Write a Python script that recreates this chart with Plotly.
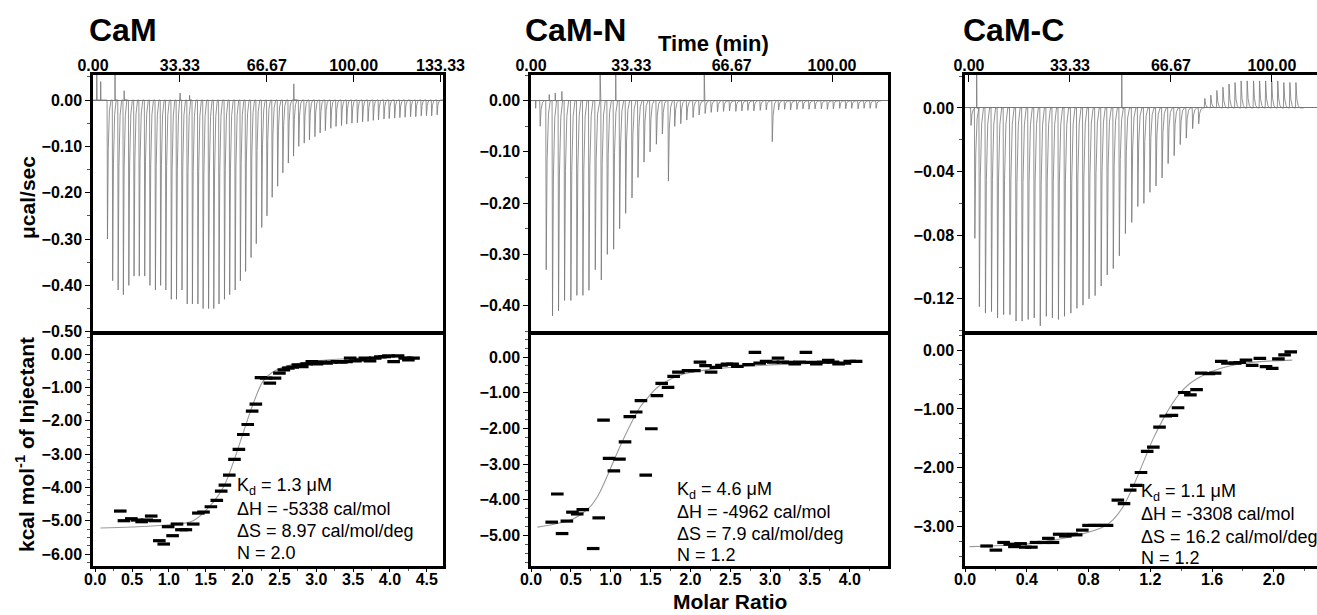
import plotly.graph_objects as go

W, H = 1317, 615

# ---------------- data: raw thermograms (injection times in min, peak heights in ucal/sec)
cam_inj_t = [5.4, 7.4, 9.5, 11.5, 13.6, 15.6, 17.6, 19.7, 21.7, 23.8, 25.8, 27.8, 29.9, 31.9, 34.0, 36.0,
             38.0, 40.1, 42.1, 44.2, 46.2, 48.2, 50.3, 52.3, 54.4, 56.4, 58.4, 60.5, 62.5, 64.6, 66.6, 68.6,
             70.7, 72.7, 74.8, 76.8, 78.8, 80.9, 82.9, 85.0, 87.0, 89.0, 91.1, 93.1, 95.2, 97.2, 99.2, 101.3,
             103.3, 105.4, 107.4, 109.4, 111.5, 113.5, 115.6, 117.6, 119.6, 121.7, 123.7, 125.8, 127.8, 129.8, 131.9]
cam_inj_h = [-0.30, -0.39, -0.41, -0.42, -0.40, -0.38, -0.38, -0.38, -0.40, -0.41, -0.40, -0.41, -0.43, -0.43,
             -0.41, -0.44, -0.44, -0.44, -0.45, -0.45, -0.45, -0.44, -0.43, -0.42, -0.41, -0.39, -0.37, -0.34,
             -0.31, -0.275, -0.25, -0.21, -0.186, -0.157, -0.136, -0.121, -0.10, -0.093, -0.086, -0.079, -0.071,
             -0.066, -0.061, -0.057, -0.055, -0.052, -0.05, -0.049, -0.047, -0.046, -0.044, -0.043, -0.041, -0.04,
             -0.039, -0.038, -0.037, -0.036, -0.036, -0.034, -0.034, -0.034, -0.032]
cam_art_t = [1.4, 2.9, 8.4, 11.9, 33.4, 37.0, 77.0]
cam_art_h = [0.06, 0.04, 0.06, 0.02, 0.015, 0.01, 0.035]

camn_inj_t = [2.9, 4.9, 7.0, 9.0, 11.0, 13.1, 15.1, 17.1, 19.1, 21.2, 23.2, 25.2, 27.3, 29.3, 31.3, 33.4, 35.4,
              37.4, 39.4, 41.5, 43.5, 45.5, 47.6, 49.6, 51.6, 53.7, 55.7, 57.7, 59.7, 61.8, 63.8, 65.8, 67.9, 69.9,
              71.9, 73.9, 76.0, 78.0, 80.0, 82.1, 84.1, 86.1, 88.2, 90.2, 92.2, 94.2, 96.3, 98.3, 100.3, 102.4,
              104.4, 106.4, 108.5, 110.5, 112.5, 114.5]
camn_inj_h = [-0.05, -0.33, -0.42, -0.41, -0.39, -0.39, -0.38, -0.38, -0.37, -0.33, -0.35, -0.30, -0.29, -0.25,
              -0.22, -0.19, -0.15, -0.12, -0.10, -0.085, -0.065, -0.157, -0.05, -0.045, -0.038, -0.033, -0.028,
              -0.025, -0.023, -0.022, -0.021, -0.02, -0.021, -0.02, -0.019, -0.02, -0.019, -0.018, -0.08, -0.018,
              -0.017, -0.018, -0.017, -0.016, -0.017, -0.016, -0.016, -0.017, -0.016, -0.015, -0.016, -0.015,
              -0.016, -0.015, -0.015, -0.015]
camn_art_t = [1.5, 6.0, 8.0, 10.2, 22.9, 28.1, 57.5]
camn_art_h = [-0.015, 0.012, 0.015, 0.018, 0.06, 0.06, 0.06]

camc_inj_t = [0.55, 1.8, 3.3, 5.3, 7.3, 9.3, 11.3, 13.4, 15.4, 17.4, 19.4, 21.4, 23.4, 25.4, 27.4, 29.4, 31.4,
              33.5, 35.5, 37.5, 39.5, 41.5, 43.5, 45.5, 47.5, 49.5, 51.5, 53.6, 55.6, 57.6, 59.6, 61.6, 63.6, 65.6,
              67.6, 69.6, 71.6, 73.7, 75.7, 77.7, 79.7, 81.7, 83.7, 85.7, 87.7, 89.7, 91.7, 93.8, 95.8, 97.8, 99.8,
              101.8, 103.8, 105.8, 107.8]
camc_inj_h = [-0.011, -0.082, -0.125, -0.129, -0.128, -0.132, -0.13, -0.13, -0.134, -0.134, -0.133, -0.132, -0.137,
              -0.131, -0.132, -0.133, -0.131, -0.129, -0.126, -0.124, -0.12, -0.118, -0.112, -0.105, -0.101, -0.093,
              -0.079, -0.072, -0.062, -0.06, -0.053, -0.049, -0.044, -0.035, -0.03, -0.023, -0.019, -0.013, -0.010,
              0.006, 0.008, 0.011, 0.013, 0.015, 0.016, 0.017, 0.017, 0.017, 0.017, 0.017, 0.017, 0.017, 0.016,
              0.016, 0.016]
camc_art_t = [2.5, 50.4]
camc_art_h = [0.03, 0.03]

# ---------------- data: integrated heats (molar ratio, kcal/mol of injectant)
cam_mr = [0.34, 0.39, 0.49, 0.57, 0.63, 0.70, 0.76, 0.81, 0.87, 0.93, 0.99, 1.05, 1.11, 1.17, 1.23, 1.33, 1.40,
          1.47, 1.57, 1.65, 1.71, 1.76, 1.82, 1.89, 1.95, 2.01, 2.07, 2.13, 2.18, 2.25, 2.32, 2.37, 2.44, 2.50,
          2.56, 2.62, 2.68, 2.75, 2.81, 2.87, 2.94, 3.01, 3.06, 3.14, 3.21, 3.28, 3.34, 3.41, 3.46, 3.53, 3.60,
          3.66, 3.73, 3.80, 3.87, 3.93, 3.98, 4.05, 4.11, 4.20, 4.25, 4.32]
cam_q = [-4.71, -5.0, -4.94, -4.98, -5.03, -4.98, -4.86, -5.0, -5.6, -5.70, -5.18, -5.45, -5.10, -5.27, -5.27,
         -5.10, -4.77, -4.74, -4.58, -4.39, -4.11, -3.93, -3.63, -3.16, -2.86, -2.41, -2.11, -1.71, -1.50, -0.70,
         -0.72, -0.87, -0.72, -0.57, -0.47, -0.42, -0.39, -0.32, -0.37, -0.29, -0.22, -0.29, -0.24, -0.27, -0.24,
         -0.22, -0.24, -0.22, -0.12, -0.20, -0.17, -0.12, -0.20, -0.12, -0.08, -0.07, -0.05, -0.22, -0.05, -0.12,
         -0.17, -0.12]
cam_fit_x = [0.07, 0.5, 1.0, 1.33, 1.6, 1.75, 1.88, 2.01, 2.15, 2.28, 2.4, 2.56, 2.8, 3.0, 3.5, 4.0, 4.32]
cam_fit_y = [-5.22, -5.19, -5.12, -5.0, -4.45, -3.95, -3.21, -2.35, -1.45, -0.8, -0.55, -0.38, -0.26, -0.2,
             -0.12, -0.08, -0.07]

camn_mr = [0.26, 0.33, 0.39, 0.45, 0.52, 0.58, 0.65, 0.78, 0.85, 0.91, 0.98, 1.04, 1.11, 1.18, 1.24, 1.32, 1.38,
           1.44, 1.51, 1.58, 1.64, 1.72, 1.79, 1.85, 1.97, 2.05, 2.12, 2.19, 2.26, 2.32, 2.39, 2.46, 2.53, 2.59,
           2.73, 2.81, 2.87, 2.95, 3.04, 3.10, 3.16, 3.23, 3.31, 3.37, 3.45, 3.52, 3.58, 3.67, 3.73, 3.79, 3.86,
           3.94, 4.0, 4.08]
camn_q = [-4.63, -3.84, -4.95, -4.60, -4.35, -4.40, -4.28, -5.37, -4.51, -1.77, -2.84, -3.19, -2.86, -2.38, -1.67,
          -1.54, -1.22, -3.31, -2.01, -1.08, -0.74, -0.85, -0.54, -0.42, -0.38, -0.38, -0.14, -0.24, -0.42, -0.29,
          -0.23, -0.20, -0.20, -0.26, -0.21, 0.13, -0.17, -0.12, -0.14, -0.03, -0.14, -0.15, -0.19, -0.14, 0.13,
          -0.15, -0.19, -0.14, -0.09, -0.14, -0.19, -0.17, -0.12, -0.12]
camn_fit_x = [0.08, 0.3, 0.53, 0.74, 0.85, 0.95, 1.05, 1.16, 1.27, 1.37, 1.48, 1.58, 1.7, 1.85, 2.0, 2.2, 2.6,
              3.0, 3.5, 4.15]
camn_fit_y = [-4.77, -4.68, -4.54, -4.2, -3.85, -3.37, -2.85, -2.3, -1.8, -1.4, -1.1, -0.86, -0.68, -0.52, -0.43,
              -0.36, -0.27, -0.22, -0.18, -0.14]

camc_mr = [0.14, 0.20, 0.25, 0.29, 0.32, 0.36, 0.39, 0.43, 0.46, 0.51, 0.54, 0.57, 0.61, 0.65, 0.69, 0.72, 0.76,
           0.80, 0.84, 0.88, 0.92, 0.99, 1.03, 1.07, 1.11, 1.14, 1.18, 1.22, 1.26, 1.30, 1.34, 1.38, 1.42, 1.46,
           1.50, 1.53, 1.58, 1.62, 1.66, 1.70, 1.75, 1.78, 1.82, 1.86, 1.91, 1.95, 1.99, 2.03, 2.07, 2.11]
camc_q = [-3.33, -3.40, -3.27, -3.30, -3.34, -3.29, -3.35, -3.35, -3.27, -3.27, -3.20, -3.27, -3.13, -3.16, -3.13,
          -3.14, -3.06, -2.98, -2.98, -2.98, -2.98, -2.55, -2.61, -2.38, -2.30, -2.08, -1.72, -1.65, -1.31, -1.12,
          -1.11, -0.98, -0.72, -0.76, -0.67, -0.39, -0.40, -0.39, -0.19, -0.22, -0.22, -0.21, -0.17, -0.26, -0.14,
          -0.28, -0.31, -0.15, -0.08, -0.03]
camc_fit_x = [0.03, 0.42, 0.74, 0.9, 0.96, 1.02, 1.07, 1.12, 1.17, 1.22, 1.28, 1.34, 1.39, 1.45, 1.5, 1.61, 1.82,
              2.12]
camc_fit_y = [-3.34, -3.29, -3.14, -3.0, -2.88, -2.68, -2.43, -2.13, -1.81, -1.5, -1.19, -0.92, -0.74, -0.58,
              -0.49, -0.35, -0.22, -0.17]

panel_titles = ["CaM", "CaM-N", "CaM-C"]
fit_texts = [
    ["K<sub>d</sub> = 1.3 μM", "ΔH = -5338 cal/mol", "ΔS = 8.97 cal/mol/deg", "N = 2.0"],
    ["K<sub>d</sub> = 4.6 μM", "ΔH = -4962 cal/mol", "ΔS = 7.9 cal/mol/deg", "N = 1.2"],
    ["K<sub>d</sub> = 1.1 μM", "ΔH = -3308 cal/mol", "ΔS = 16.2 cal/mol/deg", "N = 1.2"],
]
time_ticks = [0, 33.33, 66.67, 100.0, 133.33]
time_ticktext = ["0.00", "33.33", "66.67", "100.00", "133.33"]


def thermogram(inj_t, inj_h, art_t, art_h, t_end):
    """Build a raw power trace: baseline with a sharp peak for each injection."""
    events = []
    for t, h in zip(inj_t, inj_h):
        events.append((t, [(0.0, 0.0), (0.15, h), (0.45, 0.35 * h), (0.9, 0.08 * h), (1.5, 0.0)]))
    for t, h in zip(art_t, art_h):
        events.append((t, [(0.0, 0.0), (0.05, h), (0.15, 0.0)]))
    events.sort(key=lambda e: e[0])
    xs, ys = [0.0], [0.0]
    for t, shape in events:
        for dt, v in shape:
            xs.append(t + dt)
            ys.append(v)
    xs.append(t_end)
    ys.append(0.0)
    return xs, ys


def px(x):
    return x / W


def py(y):
    return 1 - y / H


fig = go.Figure()

thermos = [
    (cam_inj_t, cam_inj_h, cam_art_t, cam_art_h, 134.3),
    (camn_inj_t, camn_inj_h, camn_art_t, camn_art_h, 116.5),
    (camc_inj_t, camc_inj_h, camc_art_t, camc_art_h, 110.5),
]
isos = [
    (cam_mr, cam_q, cam_fit_x, cam_fit_y),
    (camn_mr, camn_q, camn_fit_x, camn_fit_y),
    (camc_mr, camc_q, camc_fit_x, camc_fit_y),
]

for i in range(3):
    top_ax = 2 * i + 1
    bot_ax = 2 * i + 2
    tx, ty = thermogram(*thermos[i])
    fig.add_trace(go.Scatter(x=tx, y=ty, mode="lines", line=dict(color="#777777", width=0.8),
                             xaxis=f"x{top_ax}", yaxis=f"y{top_ax}", showlegend=False, hoverinfo="skip"))
    mr, q, fx, fy = isos[i]
    fig.add_trace(go.Scatter(x=fx, y=fy, mode="lines", line=dict(color="#9a9a9a", width=1.1, shape="spline"),
                             xaxis=f"x{bot_ax}", yaxis=f"y{bot_ax}", showlegend=False))
    fig.add_trace(go.Scatter(x=mr, y=q, mode="markers",
                             marker=dict(symbol="line-ew", size=9, line=dict(color="black", width=3.2)),
                             xaxis=f"x{bot_ax}", yaxis=f"y{bot_ax}", showlegend=False))

# pixel geometry of panels
LW = 2.5
x_dom = [(93, 443), (531, 888), (965, 1317)]
top_px = (75, 333 - LW / 2)
bot_px = (333 + LW / 2, 566)

top_x_ranges = [[0, 134.3], [0, 118.6], [-1.3, 114.9]]
top_y_ranges = [[-0.50, 0.054], [-0.451, 0.05], [-0.1407, 0.0207]]
top_y_ticks = [[0, -0.1, -0.2, -0.3, -0.4, -0.5], [0, -0.1, -0.2, -0.3, -0.4], [0, -0.04, -0.08, -0.12]]
bot_x_ranges = [[-0.03, 4.72], [0, 4.48], [0, 2.28]]
bot_x_dtick = [0.5, 0.5, 0.4]
bot_y_ranges = [[-6.36, 0.6], [-5.86, 0.64], [-3.67, 0.27]]

tickfont = dict(family="Arial, Liberation Sans, sans-serif", size=16, color="black", weight="bold")
axis_common = dict(showline=True, linecolor="black", linewidth=LW, mirror=True, showgrid=False,
                   tickfont=tickfont, tickcolor="black", tickwidth=1.2, automargin=False)

layout = {}
for i in range(3):
    xd = [px(x_dom[i][0]), min(1.0, px(x_dom[i][1]))]
    t = 2 * i + 1
    b = 2 * i + 2
    ky = "yaxis" if t == 1 else f"yaxis{t}"
    kx = "xaxis" if t == 1 else f"xaxis{t}"
    layout[kx] = dict(axis_common, domain=xd, anchor=f"y{t}", side="top", range=top_x_ranges[i],
                      tickvals=time_ticks, ticktext=time_ticktext, ticks="inside", ticklen=7, zeroline=False,
                      ticklabelstandoff=-5)
    layout[ky] = dict(axis_common, domain=[py(top_px[1]), py(top_px[0])], anchor=f"x{t}",
                      range=top_y_ranges[i], tickvals=top_y_ticks[i], tickformat=".2f", ticks="outside",
                      ticklen=5, zeroline=True, zerolinecolor="#777777", zerolinewidth=1,
                      minor=dict(ticks="outside", ticklen=3, tickcolor="#555",
                                 dtick=(top_y_ticks[i][0] - top_y_ticks[i][1]) / 2))
    layout[f"xaxis{b}"] = dict(axis_common, domain=xd, anchor=f"y{b}", range=bot_x_ranges[i], tick0=0,
                               dtick=bot_x_dtick[i], tickformat=".1f", ticks="outside", ticklen=3,
                               zeroline=False, ticklabelstandoff=-6,
                               minor=dict(ticks="outside", ticklen=2, tickcolor="#555", dtick=bot_x_dtick[i] / 2))
    layout[f"yaxis{b}"] = dict(axis_common, domain=[py(bot_px[1]), py(bot_px[0])], anchor=f"x{b}",
                               range=bot_y_ranges[i], tick0=0, dtick=1, tickformat=".2f", ticks="outside",
                               ticklen=5, zeroline=False,
                               minor=dict(ticks="outside", ticklen=3, tickcolor="#555", dtick=0.25))

ann = []
bold = dict(family="Arial, Liberation Sans, sans-serif", color="black")
title_pos = [(87, 30), (523, 30), (961, 30)]
for i in range(3):
    ann.append(dict(text=f"<b>{panel_titles[i]}</b>", x=px(title_pos[i][0]), y=py(title_pos[i][1]),
                    xref="paper", yref="paper", xanchor="left", yanchor="middle", showarrow=False,
                    font=dict(bold, size=32)))
ann.append(dict(text="<b>Time (min)</b>", x=px(713), y=py(43), xref="paper", yref="paper",
                xanchor="center", yanchor="middle", showarrow=False, font=dict(bold, size=22)))
ann.append(dict(text="<b>Molar Ratio</b>", x=px(730), y=py(601), xref="paper", yref="paper",
                xanchor="center", yanchor="middle", showarrow=False, font=dict(bold, size=21)))
ann.append(dict(text="<b>μcal/sec</b>", x=px(27), y=py(198), xref="paper", yref="paper", textangle=-90,
                xanchor="center", yanchor="middle", showarrow=False, font=dict(bold, size=21)))
ann.append(dict(text="<b>kcal mol<sup>-1</sup> of Injectant</b>", x=px(25), y=py(445), xref="paper",
                yref="paper", textangle=-90, xanchor="center", yanchor="middle", showarrow=False,
                font=dict(bold, size=21)))

text_pos = [(235, [486, 509, 531, 553]), (675, [490, 512, 534, 555]), (1139, [492, 514, 537, 558])]
for i in range(3):
    x0, ys = text_pos[i]
    for line, yy in zip(fit_texts[i], ys):
        ann.append(dict(text=line, x=px(x0), y=py(yy), xref="paper", yref="paper", xanchor="left",
                        yanchor="middle", showarrow=False,
                        font=dict(family="Arial, Liberation Sans, sans-serif", size=18, color="black")))

fig.update_layout(width=W, height=H, margin=dict(l=0, r=0, t=0, b=0), paper_bgcolor="white",
                  plot_bgcolor="white", annotations=ann, **layout)

fig.write_html("out.html", config={"displayModeBar": False},
               post_script="document.body.style.margin='0';document.body.style.overflow='hidden';")
